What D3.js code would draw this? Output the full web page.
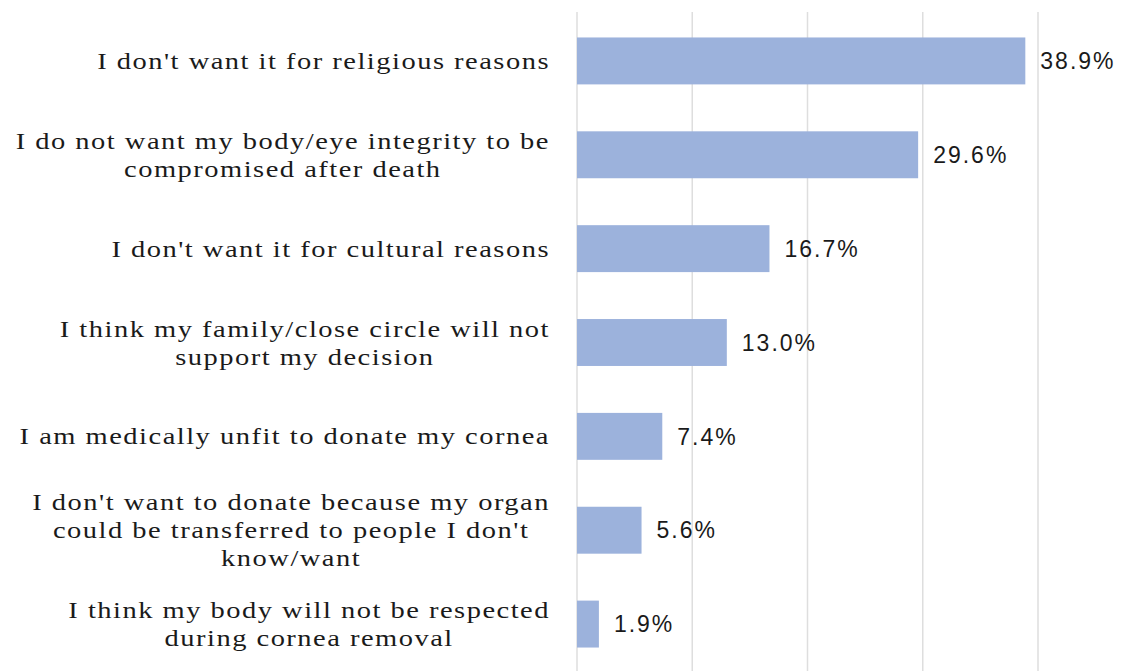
<!DOCTYPE html>
<html>
<head>
<meta charset="utf-8">
<script src="https://cdn.jsdelivr.net/npm/d3@7"></script>
<style>
  body { margin: 0; background: #fff; }
  svg { display: block; }
  .lbl { font-family: "Liberation Serif", "Times New Roman", serif; font-size: 23px; fill: #1a1a1a; letter-spacing: 1.2px; }
  .val { font-family: "Liberation Sans", Arial, sans-serif; font-size: 23px; fill: #1a1a1a; letter-spacing: 2px; }
</style>
</head>
<body>
<script>
// reasons (one entry per bar, lines as wrapped in the original)
const reasons = [
  ["I don't want it for religious reasons"],
  ["I do not want my body/eye integrity to be", "compromised after death"],
  ["I don't want it for cultural reasons"],
  ["I think my family/close circle will not", "support my decision"],
  ["I am medically unfit to donate my cornea"],
  ["I don't want to donate because my organ", "could be transferred to people I don't", "know/want"],
  ["I think my body will not be respected", "during cornea removal"]
];
const percents = [38.9, 29.6, 16.7, 13.0, 7.4, 5.6, 1.9];
const gridTicks = [0, 10, 20, 30, 40];

const width = 1130, height = 671;
const svg = d3.select('body').append('svg')
    .attr('width', width)
    .attr('height', height);

const x = d3.scaleLinear().domain([0, 40]).range([577, 1038]);
const y = d3.scaleBand()
    .domain(d3.range(reasons.length))
    .range([14, 671])
    .paddingInner(0.5)
    .paddingOuter(0.25);

// gridlines
svg.append('g')
    .selectAll('line')
    .data(gridTicks)
    .enter()
    .append('line')
    .attr('x1', d => x(d)).attr('x2', d => x(d))
    .attr('y1', 12).attr('y2', height)
    .style('stroke', '#dedede')
    .style('stroke-width', 1.5);

// bars
svg.append('g')
    .selectAll('rect')
    .data(percents)
    .enter()
    .append('rect')
    .attr('x', x(0))
    .attr('y', (d, i) => y(i))
    .attr('width', d => x(d) - x(0))
    .attr('height', y.bandwidth())
    .style('fill', '#9cb2dc');

// value labels
svg.append('g')
    .selectAll('text')
    .data(percents)
    .enter()
    .append('text')
    .attr('class', 'val')
    .attr('x', d => x(d) + 15)
    .attr('y', (d, i) => y(i) + y.bandwidth() / 2)
    .attr('dy', '0.36em')
    .text(d => d.toFixed(1) + '%');

// category labels: block right-aligned at 550, lines centered inside block,
// glyphs stretched a bit wider like the original export
const lineH = 28;
const rightEdge = 550;
const stretch = 1.24;
reasons.forEach((lines, i) => {
    const cy = y(i) + y.bandwidth() / 2;
    const g = svg.append('g')
        .attr('transform', `translate(${rightEdge},0) scale(${stretch},1)`);
    const t = g.append('text')
        .attr('class', 'lbl')
        .attr('text-anchor', 'middle');
    const spans = lines.map((s, j) => t.append('tspan')
        .attr('y', cy + (j - (lines.length - 1) / 2) * lineH)
        .attr('dy', '0.35em')
        .text(s));
    const w = d3.max(spans, s => s.node().getComputedTextLength());
    spans.forEach(s => s.attr('x', -w / 2));
});
</script>
</body>
</html>
